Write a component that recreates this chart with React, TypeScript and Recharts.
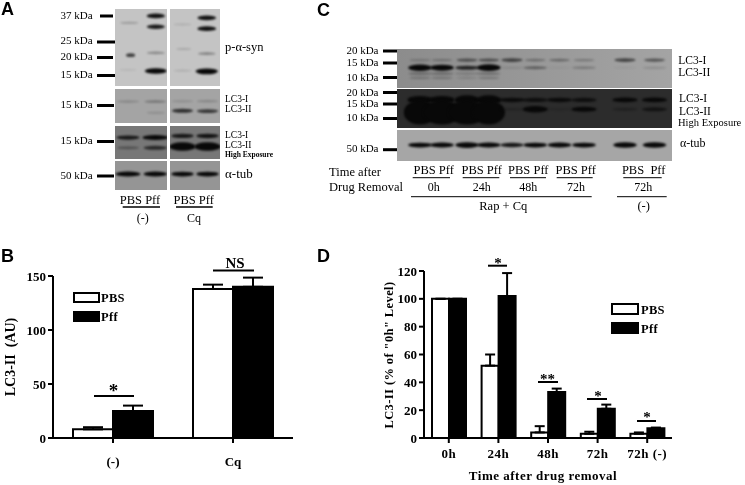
import React from 'react';
import { BarChart, Bar, XAxis, YAxis, ErrorBar, ScatterChart, Scatter } from 'recharts';

const SERIF = '"Liberation Serif", "Times New Roman", serif';

// Panel B
const quantGroups = ['(-)', 'Cq'];
const quantPbs = [8, 138];
const quantPff = [25, 140];
const quantPbsError = [2, 4];
const quantPffError = [5, 8.5];
const quantTicks = [0, 50, 100, 150];

// Panel D
const timeGroups = ['0h', '24h', '48h', '72h', '72h (-)'];
const timePbs = [100, 52, 4, 3, 3];
const timePff = [100, 102, 33, 21, 7];
const timePbsErr = [0, 8, 4.5, 1.5, 1];
const timePffErr = [0, 16.5, 2.5, 3, 0.5];
const timeTicks = [0, 20, 40, 60, 80, 100, 120];

const quantData = quantGroups.map((name, i) => ({
  name,
  pbs: quantPbs[i],
  pff: quantPff[i],
  pbsErr: [0, quantPbsError[i]],
  pffErr: [0, quantPffError[i]],
}));

const timeData = timeGroups.map((name, i) => ({
  name,
  pbs: timePbs[i],
  pff: timePff[i],
  pbsErr: [0, timePbsErr[i]],
  pffErr: [0, timePffErr[i]],
}));

// Blot bands: lane, relative migration in the strip (0 top, 1 bottom), density, span in lanes
type Band = { lane: number; rf: number; density: number; span: number };

const synLeft: Band[] = [
  { lane: 0.55, rf: 0.18, density: 0.2, span: 0.7 },
  { lane: 0.6, rf: 0.6, density: 0.7, span: 0.35 },
  { lane: 0.5, rf: 0.79, density: 0.08, span: 0.7 },
  { lane: 1.57, rf: 0.09, density: 0.95, span: 0.7 },
  { lane: 1.57, rf: 0.23, density: 0.9, span: 0.7 },
  { lane: 1.57, rf: 0.57, density: 0.3, span: 0.7 },
  { lane: 1.57, rf: 0.805, density: 1.2, span: 0.85 },
];
const synRight: Band[] = [
  { lane: 0.5, rf: 0.2, density: 0.12, span: 0.7 },
  { lane: 0.55, rf: 0.52, density: 0.15, span: 0.6 },
  { lane: 0.5, rf: 0.8, density: 0.12, span: 0.7 },
  { lane: 1.47, rf: 0.115, density: 0.95, span: 0.75 },
  { lane: 1.47, rf: 0.255, density: 0.95, span: 0.75 },
  { lane: 1.47, rf: 0.58, density: 0.35, span: 0.7 },
  { lane: 1.47, rf: 0.81, density: 1.3, span: 0.9 },
];
const lc3Left: Band[] = [
  { lane: 0.5, rf: 0.37, density: 0.2, span: 0.85 },
  { lane: 1.55, rf: 0.37, density: 0.3, span: 0.85 },
  { lane: 1.57, rf: 0.7, density: 0.15, span: 0.7 },
];
const lc3Right: Band[] = [
  { lane: 0.5, rf: 0.36, density: 0.15, span: 0.85 },
  { lane: 1.5, rf: 0.36, density: 0.2, span: 0.85 },
  { lane: 0.5, rf: 0.64, density: 0.75, span: 0.85 },
  { lane: 1.5, rf: 0.65, density: 0.7, span: 0.85 },
];
const lc3HighLeft: Band[] = [
  { lane: 0.5, rf: 0.35, density: 0.85, span: 0.9 },
  { lane: 1.55, rf: 0.35, density: 1.1, span: 0.98 },
  { lane: 0.5, rf: 0.66, density: 0.35, span: 0.85 },
  { lane: 1.55, rf: 0.66, density: 0.7, span: 0.9 },
];
const lc3HighRight: Band[] = [
  { lane: 0.5, rf: 0.3, density: 0.85, span: 0.9 },
  { lane: 1.5, rf: 0.3, density: 0.9, span: 0.9 },
  { lane: 0.5, rf: 0.62, density: 2.2, span: 1.05 },
  { lane: 1.5, rf: 0.62, density: 2.2, span: 1.05 },
];
const tubLeft: Band[] = [
  { lane: 0.5, rf: 0.45, density: 1.1, span: 0.95 },
  { lane: 1.55, rf: 0.45, density: 1.1, span: 0.9 },
];
const tubRight: Band[] = [
  { lane: 0.5, rf: 0.45, density: 1, span: 0.9 },
  { lane: 1.5, rf: 0.45, density: 1, span: 0.9 },
];

const timeLanes = [0.92, 1.8, 2.8, 3.67, 4.6, 5.53, 6.5, 7.48, 9.12, 10.3];
const lc3IDensity = [0.2, 0.25, 0.5, 0.5, 0.6, 0.3, 0.35, 0.25, 0.6, 0.5];
const lc3IIDensity = [1.5, 1.4, 0.8, 1.6, 0.1, 0.4, 0.05, 0.25, 0.05, 0.15];
const lc3SmearDensity = [0.3, 0.3, 0.2, 0.3, 0, 0, 0, 0, 0, 0];
const lc3HighIDensity = [2, 2, 2.4, 2.4, 0.9, 0.8, 0.9, 0.8, 1, 1];
const lc3HighIIDensity = [7, 7, 7, 7, 0.25, 1.5, 0.2, 1.1, 0.35, 0.7];
const lc3HighIIRf = [0.6, 0.6, 0.6, 0.6, 0.52, 0.52, 0.52, 0.52, 0.52, 0.52];
const lc3HighIISpan = [1.3, 1.5, 1.5, 1.3, 1, 1, 1, 1, 1, 1];
const tubDensity = [1, 1.1, 1.3, 1.1, 0.9, 1, 1.1, 1, 1.2, 1.2];

const timeBlotTop: Band[] = [
  ...timeLanes.map((lane, i) => ({ lane, rf: 0.285, density: lc3IDensity[i], span: 0.85 })),
  ...timeLanes.map((lane, i) => ({ lane, rf: 0.48, density: lc3IIDensity[i], span: 0.95 })),
  ...timeLanes.map((lane, i) => ({ lane, rf: 0.63, density: lc3SmearDensity[i], span: 0.95 })),
  ...timeLanes.map((lane, i) => ({ lane, rf: 0.74, density: lc3SmearDensity[i] * 0.7, span: 0.85 })),
];
const timeBlotHigh: Band[] = [
  ...timeLanes.map((lane, i) => ({ lane, rf: 0.28, density: lc3HighIDensity[i], span: 1 })),
  ...timeLanes.map((lane, i) => ({ lane, rf: lc3HighIIRf[i], density: lc3HighIIDensity[i], span: lc3HighIISpan[i] })),
];
const timeBlotTub: Band[] = timeLanes.map((lane, i) => ({ lane, rf: 0.485, density: tubDensity[i], span: 0.95 }));

const bandShape = (lanePx: number) => (props: any) => {
  const { cx, cy, payload } = props;
  if (!payload.density) return <g />;
  return (
    <ellipse
      cx={cx}
      cy={cy}
      rx={(payload.span * lanePx) / 2}
      ry={0.8 + 1.6 * payload.density}
      fill="#080808"
      opacity={Math.min(1, payload.density)}
      style={{ filter: 'blur(1px)' }}
    />
  );
};

const Blot = ({ x, y, w, h, bg, lanes, bands }: { x: number; y: number; w: number; h: number; bg: string; lanes: number; bands: Band[] }) => (
  <div style={{ position: 'absolute', left: x, top: y, width: w, height: h, background: bg }}>
    <ScatterChart width={w} height={h} margin={{ top: 0, right: 0, bottom: 0, left: 0 }}>
      <XAxis type="number" dataKey="lane" domain={[0, lanes]} hide />
      <YAxis type="number" dataKey="rf" domain={[0, 1]} reversed hide />
      <Scatter data={bands} isAnimationActive={false} shape={bandShape(w / lanes)} />
    </ScatterChart>
  </div>
);

const tickStyle = { fill: '#000', fontFamily: SERIF, fontWeight: 700, fontSize: 13 };
const axisLine = { stroke: '#000', strokeWidth: 2 };
const tickLine = { stroke: '#000', strokeWidth: 2 };

const T = ({ x, y, s = 11, a = 'start', b = false, fam = SERIF, ls, children }: any) => (
  <text x={x} y={y} fontSize={s} textAnchor={a} fontWeight={b ? 700 : 400} fontFamily={fam} letterSpacing={ls} fill="#000">
    {children}
  </text>
);
const L = ({ x1, x2, y, w = 1.5 }: any) => <line x1={x1} x2={x2} y1={y} y2={y} stroke="#000" strokeWidth={w} />;

const Key = ({ x, y, w, h, tx, fs }: any) => (
  <g>
    <rect x={x} y={y} width={w} height={h} fill="#fff" stroke="#000" strokeWidth={2} />
    <T x={tx} y={y + h} s={fs} b ls={0.3}>PBS</T>
    <rect x={x} y={y + 19} width={w} height={h} fill="#000" stroke="#000" strokeWidth={2} />
    <T x={tx} y={y + 19 + h} s={fs} b ls={0.3}>Pff</T>
  </g>
);

const Marker = ({ x1, x2, y }: any) => <L x1={x1} x2={x2} y={y} w={3} />;

const Overlay = () => (
  <svg width={745} height={485} style={{ position: 'absolute', left: 0, top: 0, pointerEvents: 'none' }}>
    {/* panel letters */}
    <T x={1} y={15} s={18} b fam='"Liberation Sans", sans-serif'>A</T>
    <T x={1} y={262} s={18} b fam='"Liberation Sans", sans-serif'>B</T>
    <T x={317} y={16} s={18} b fam='"Liberation Sans", sans-serif'>C</T>
    <T x={317} y={262} s={18} b fam='"Liberation Sans", sans-serif'>D</T>

    {/* panel A labels */}
    <T x={92.7} y={19} a="end">37 kDa</T>
    <T x={92.7} y={44} a="end">25 kDa</T>
    <T x={92.7} y={60} a="end">20 kDa</T>
    <T x={92.7} y={78} a="end">15 kDa</T>
    <T x={92.7} y={108} a="end">15 kDa</T>
    <T x={92.7} y={144} a="end">15 kDa</T>
    <T x={92.7} y={179} a="end">50 kDa</T>
    <Marker x1={100} x2={113} y={16} />
    <Marker x1={97} x2={115} y={42} />
    <Marker x1={97} x2={113} y={57.5} />
    <Marker x1={97} x2={115} y={75.5} />
    <Marker x1={97} x2={114} y={105.5} />
    <Marker x1={97} x2={114} y={141.5} />
    <Marker x1={97} x2={114} y={176} />
    <T x={225} y={51} s={12.5}>p-α-syn</T>
    <T x={225} y={102} s={9.5}>LC3-I</T>
    <T x={225} y={111.5} s={9.5}>LC3-II</T>
    <T x={225} y={138} s={9.5}>LC3-I</T>
    <T x={225} y={148} s={9.5}>LC3-II</T>
    <T x={225} y={157} s={7.5} b>High Exposure</T>
    <T x={225} y={178} s={13}>α-tub</T>
    <T x={140} y={204} s={12.5} a="middle">PBS Pff</T>
    <T x={193.7} y={204} s={12.5} a="middle">PBS Pff</T>
    <L x1={122.7} x2={160} y={207} />
    <L x1={176} x2={212.7} y={207} />
    <T x={142.7} y={222} s={12} a="middle">(-)</T>
    <T x={194} y={222} s={12} a="middle">Cq</T>

    {/* panel C labels */}
    <T x={378.5} y={53.5} a="end">20 kDa</T>
    <T x={378.5} y={66} a="end">15 kDa</T>
    <T x={378.5} y={80.5} a="end">10 kDa</T>
    <T x={378.5} y={95.5} a="end">20 kDa</T>
    <T x={378.5} y={107} a="end">15 kDa</T>
    <T x={378.5} y={121} a="end">10 kDa</T>
    <T x={378.5} y={152} a="end">50 kDa</T>
    <Marker x1={383} x2={397} y={51} />
    <Marker x1={383} x2={397} y={63} />
    <Marker x1={383} x2={397} y={77.5} />
    <Marker x1={383} x2={397} y={92.5} />
    <Marker x1={383} x2={397} y={104} />
    <Marker x1={383} x2={397} y={118.5} />
    <Marker x1={383} x2={397} y={149.7} />
    <T x={678.3} y={63.5} s={11.5}>LC3-I</T>
    <T x={678.3} y={76} s={11.5}>LC3-II</T>
    <T x={679} y={102} s={11.5}>LC3-I</T>
    <T x={679} y={114.5} s={11.5}>LC3-II</T>
    <T x={678} y={126} s={10.5}>High Exposure</T>
    <T x={680} y={147} s={12}>α-tub</T>
    <T x={329} y={175.5} s={12.5}>Time after</T>
    <T x={329} y={191} s={12.5}>Drug Removal</T>
    <T x={433.7} y={173.5} s={12.5} a="middle">PBS Pff</T>
    <T x={481.7} y={173.5} s={12.5} a="middle">PBS Pff</T>
    <T x={528.3} y={173.5} s={12.5} a="middle">PBS Pff</T>
    <T x={575.7} y={173.5} s={12.5} a="middle">PBS Pff</T>
    <T x={643.7} y={173.5} s={12.5} a="middle">{'PBS\u00A0\u00A0Pff'}</T>
    <L x1={412.7} x2={450} y={177.7} w={1} />
    <L x1={462.7} x2={499.3} y={177.7} w={1} />
    <L x1={510} x2={546} y={177.7} w={1} />
    <L x1={556.7} x2={592.7} y={177.7} w={1} />
    <L x1={623.3} x2={661.7} y={177.7} w={1} />
    <T x={433.7} y={191} s={12} a="middle">0h</T>
    <T x={481.7} y={191} s={12} a="middle">24h</T>
    <T x={528.3} y={191} s={12} a="middle">48h</T>
    <T x={576} y={191} s={12} a="middle">72h</T>
    <T x={643.3} y={191} s={12} a="middle">72h</T>
    <L x1={411} x2={591.7} y={196.7} w={1} />
    <L x1={617} x2={666.7} y={196.7} w={1} />
    <T x={503.3} y={210} s={12.5} a="middle">Rap + Cq</T>
    <T x={643.7} y={210} s={12.5} a="middle">(-)</T>

    {/* panel B extras */}
    <Key x={74} y={293} w={25} h={9} tx={101} fs={12.5} />
    <L x1={94} x2={134} y={396} w={2} />
    <T x={113.5} y={397} s={19} a="middle" b>*</T>
    <L x1={213} x2={254} y={270.5} w={2} />
    <T x={235} y={268} s={15} a="middle" b>NS</T>
    <text x={15} y={357} fontSize={14} fontWeight={700} fontFamily={SERIF} textAnchor="middle" transform="rotate(-90 15 357)">
      {'LC3-II\u00A0\u00A0(AU)'}
    </text>

    {/* panel D extras */}
    <Key x={612} y={304} w={26} h={10} tx={641} fs={12.5} />
    <L x1={488} x2={507} y={265.7} w={2} />
    <T x={498} y={268} s={15} a="middle" b>*</T>
    <L x1={538} x2={558} y={382} w={2} />
    <T x={547.5} y={384} s={15} a="middle" b>**</T>
    <L x1={587} x2={607} y={399} w={2} />
    <T x={598} y={401} s={15} a="middle" b>*</T>
    <L x1={637} x2={656} y={421} w={2} />
    <T x={647} y={422} s={15} a="middle" b>*</T>
    <text x={392.5} y={355} fontSize={12.5} fontWeight={700} fontFamily={SERIF} textAnchor="middle" letterSpacing={0.4} transform="rotate(-90 392.5 355)">
      LC3-II (% of "0h" Level)
    </text>
    <T x={543} y={480} s={13} a="middle" b ls={0.5}>Time after drug removal</T>
  </svg>
);

export default function App() {
  return (
    <div style={{ position: 'absolute', left: 0, top: 0, width: 745, height: 485, background: '#fff', overflow: 'hidden', filter: 'blur(0.35px)' }}>
      <Blot x={115} y={9} w={52} h={77} bg="#c4c4c4" lanes={2} bands={synLeft} />
      <Blot x={170} y={9} w={50} h={77} bg="#c4c4c4" lanes={2} bands={synRight} />
      <Blot x={115} y={89} w={52} h={34} bg="#a4a4a4" lanes={2} bands={lc3Left} />
      <Blot x={170} y={89} w={50} h={34} bg="#a4a4a4" lanes={2} bands={lc3Right} />
      <Blot x={115} y={126} w={52} h={33} bg="#777777" lanes={2} bands={lc3HighLeft} />
      <Blot x={170} y={126} w={50} h={33} bg="#777777" lanes={2} bands={lc3HighRight} />
      <Blot x={115} y={161} w={52} h={29} bg="#959595" lanes={2} bands={tubLeft} />
      <Blot x={170} y={161} w={50} h={29} bg="#959595" lanes={2} bands={tubRight} />

      <Blot x={397} y={49} w={275} h={39} bg="linear-gradient(90deg, #8c8c8c, #a4a4a4)" lanes={11} bands={timeBlotTop} />
      <Blot x={397} y={89} w={275} h={39} bg="#2c2c2c" lanes={11} bands={timeBlotHigh} />
      <Blot x={397} y={130} w={275} h={31} bg="#a6a6a6" lanes={11} bands={timeBlotTub} />

      <div style={{ position: 'absolute', left: 0, top: 260 }}>
        <BarChart width={310} height={215} data={quantData} barSize={40} barGap={0} barCategoryGap={40} margin={{ top: 16, right: 17, bottom: 7, left: 0 }}>
          <XAxis dataKey="name" height={30} tick={tickStyle} tickSize={5} tickMargin={14} axisLine={axisLine} tickLine={tickLine} interval={0} />
          <YAxis width={53} domain={[0, 150]} ticks={quantTicks} tick={tickStyle} tickSize={5} tickMargin={2} axisLine={axisLine} tickLine={tickLine} />
          <Bar dataKey="pbs" fill="#fff" stroke="#000" strokeWidth={2} isAnimationActive={false}>
            <ErrorBar dataKey="pbsErr" width={10} stroke="#000" strokeWidth={2} direction="y" isAnimationActive={false} />
          </Bar>
          <Bar dataKey="pff" fill="#000" stroke="#000" strokeWidth={2} isAnimationActive={false}>
            <ErrorBar dataKey="pffErr" width={10} stroke="#000" strokeWidth={2} direction="y" isAnimationActive={false} />
          </Bar>
        </BarChart>
      </div>

      <div style={{ position: 'absolute', left: 360, top: 260 }}>
        <BarChart width={320} height={225} data={timeData} barSize={17} barGap={0} margin={{ top: 11, right: 8, bottom: 17, left: 0 }}>
          <XAxis dataKey="name" height={30} tick={{ ...tickStyle, letterSpacing: 0.5 }} tickSize={5} tickMargin={6} axisLine={axisLine} tickLine={tickLine} interval={0} />
          <YAxis width={64} domain={[0, 120]} ticks={timeTicks} tick={tickStyle} tickSize={5} tickMargin={2} axisLine={axisLine} tickLine={tickLine} />
          <Bar dataKey="pbs" fill="#fff" stroke="#000" strokeWidth={2} isAnimationActive={false}>
            <ErrorBar dataKey="pbsErr" width={5} stroke="#000" strokeWidth={2} direction="y" isAnimationActive={false} />
          </Bar>
          <Bar dataKey="pff" fill="#000" stroke="#000" strokeWidth={2} isAnimationActive={false}>
            <ErrorBar dataKey="pffErr" width={5} stroke="#000" strokeWidth={2} direction="y" isAnimationActive={false} />
          </Bar>
        </BarChart>
      </div>

      <Overlay />
    </div>
  );
}
